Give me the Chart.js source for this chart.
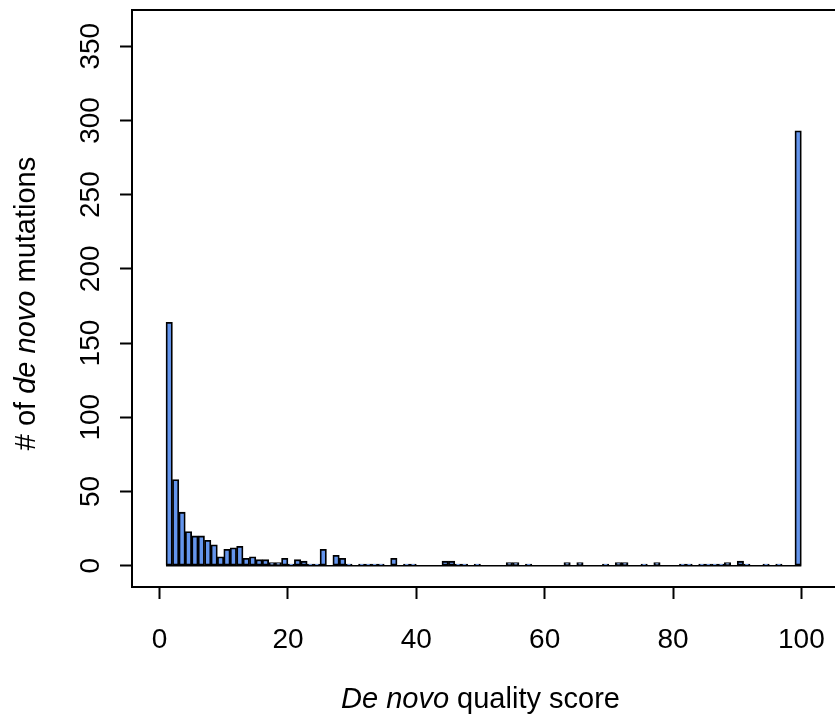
<!DOCTYPE html>
<html>
<head>
<meta charset="utf-8">
<script src="https://cdn.jsdelivr.net/npm/chart.js@4.4.0/dist/chart.umd.min.js"></script>
<style>
  html, body { margin: 0; padding: 0; background: #fff; overflow: hidden; }
  #wrap { width: 835px; height: 721px; overflow: hidden; }
</style>
</head>
<body>
<div id="wrap"><canvas id="histChart" width="845" height="721"></canvas></div>
<script>
// left edge of each histogram bin (width 1)
const binStarts = [
  1, 2, 3, 4, 5, 6, 7, 8, 9, 10, 11, 12, 13, 14, 15, 16, 17, 18, 19, 20,
  21, 22, 23, 24, 25, 26, 27, 28, 29, 30, 31, 32, 33, 34, 35, 36, 37, 38, 39, 40,
  41, 42, 43, 44, 45, 46, 47, 48, 49, 50, 51, 52, 53, 54, 55, 56, 57, 58, 59, 60,
  61, 62, 63, 64, 65, 66, 67, 68, 69, 70, 71, 72, 73, 74, 75, 76, 77, 78, 79, 80,
  81, 82, 83, 84, 85, 86, 87, 88, 89, 90, 91, 92, 93, 94, 95, 96, 97, 98, 99
];
const counts = [
  164, 58, 36, 23, 20, 20, 17, 14, 6, 11, 12, 13, 5, 6, 4, 4, 2, 2, 5, 1,
  4, 3, 1, 1, 11, 0, 7, 5, 1, 0, 1, 1, 1, 1, 0, 5, 0, 1, 1, 0,
  0, 0, 0, 3, 3, 1, 1, 0, 1, 0, 0, 0, 0, 2, 2, 0, 1, 0, 0, 0,
  0, 0, 2, 0, 2, 0, 0, 0, 1, 0, 2, 2, 0, 0, 1, 0, 2, 0, 0, 0,
  1, 1, 0, 1, 1, 1, 1, 2, 0, 3, 1, 0, 0, 1, 0, 1, 0, 0, 293
];
const xTicks = [0, 20, 40, 60, 80, 100];
const yTicks = [0, 50, 100, 150, 200, 250, 300, 350];

const xTitle = [{ text: "De novo", italic: true }, { text: " quality score", italic: false }];
const yTitle = [{ text: "# of ", italic: false }, { text: "de novo", italic: true }, { text: " mutations", italic: false }];

const fontFamily = "'Liberation Sans', Arial, Helvetica, sans-serif";
const fontSize = 28;
const titleSize = 29;

function drawMixed(ctx, parts, cx, cy, angle) {
  const fontFor = p => `${p.italic ? "italic " : ""}${titleSize}px ${fontFamily}`;
  let total = 0;
  parts.forEach(p => { ctx.font = fontFor(p); total += ctx.measureText(p.text).width; });
  ctx.save();
  ctx.translate(cx, cy);
  ctx.rotate(angle);
  ctx.fillStyle = "#000";
  ctx.textBaseline = "middle";
  ctx.textAlign = "left";
  let pos = -total / 2;
  parts.forEach(p => {
    ctx.font = fontFor(p);
    ctx.fillText(p.text, pos, 0);
    pos += ctx.measureText(p.text).width;
  });
  ctx.restore();
}

// R-style frame, flat line for empty bins, and axis titles
const rFrame = {
  id: "rFrame",
  afterDraw(chart) {
    const { ctx, chartArea: a, scales: { x, y } } = chart;
    ctx.save();
    ctx.strokeStyle = "#000";
    ctx.lineWidth = 2;
    ctx.strokeRect(a.left, a.top, a.right - a.left, a.bottom - a.top);
    ctx.lineWidth = 1.5;
    ctx.beginPath();
    ctx.moveTo(x.getPixelForValue(binStarts[0]), y.getPixelForValue(0));
    ctx.lineTo(x.getPixelForValue(binStarts[binStarts.length - 1] + 1), y.getPixelForValue(0));
    ctx.stroke();
    ctx.restore();
    drawMixed(ctx, xTitle, x.getPixelForValue(50), 700, 0);
    drawMixed(ctx, yTitle, 27, (a.top + a.bottom) / 2 + 5, -Math.PI / 2);
  }
};

const tickFont = { family: fontFamily, size: fontSize };

new Chart(document.getElementById("histChart"), {
  type: "bar",
  data: {
    datasets: [{
      data: binStarts.map((b, i) => ({ x: b + 0.5, y: counts[i] })),
      backgroundColor: "#6495ED",
      borderColor: "#000",
      borderWidth: 1.8,
      borderSkipped: false,
      barPercentage: 1,
      categoryPercentage: 1
    }]
  },
  options: {
    responsive: false,
    animation: false,
    devicePixelRatio: 1,
    layout: { padding: { top: 10, left: 0, right: 0, bottom: 0 } },
    plugins: { legend: { display: false }, tooltip: { enabled: false } },
    scales: {
      x: {
        type: "linear",
        min: -4.3,
        max: 106.8,
        offset: false,
        afterBuildTicks: s => { s.ticks = xTicks.map(v => ({ value: v })); },
        afterFit: s => { s.height = 134; s.paddingLeft = 0; s.paddingRight = 0; },
        grid: { offset: false, drawOnChartArea: false, drawTicks: true, tickLength: 12, tickWidth: 2, tickColor: "#000" },
        border: { display: false },
        ticks: { color: "#000", font: tickFont, padding: 24, maxRotation: 0, autoSkip: false }
      },
      y: {
        min: -14.4,
        max: 374.4,
        afterBuildTicks: s => { s.ticks = yTicks.map(v => ({ value: v })); },
        afterFit: s => { s.width = 132; s.paddingTop = 0; s.paddingBottom = 0; },
        grid: { drawOnChartArea: false, drawTicks: true, tickLength: 12, tickWidth: 2, tickColor: "#000" },
        border: { display: false },
        ticks: { color: "#000", font: tickFont, padding: 5, minRotation: 90, maxRotation: 90, crossAlign: "center", autoSkip: false }
      }
    }
  },
  plugins: [rFrame]
});
</script>
</body>
</html>
